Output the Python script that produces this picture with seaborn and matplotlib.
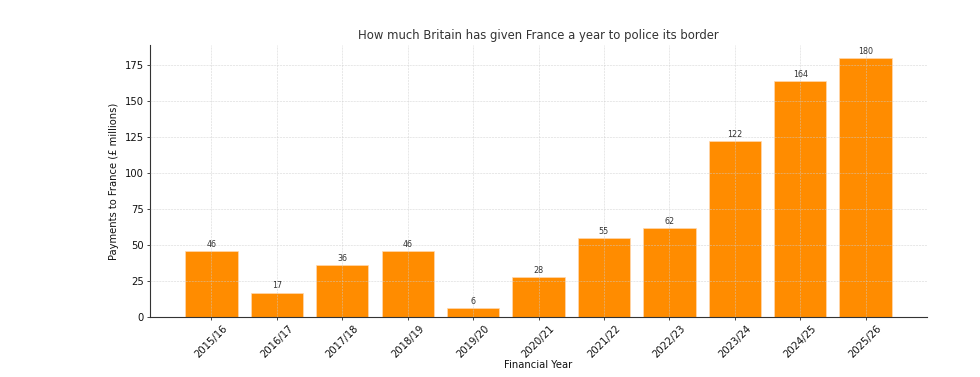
import matplotlib
matplotlib.use("Agg")
import matplotlib.pyplot as plt
import seaborn as sns
import pandas as pd

years = ["2015/16", "2016/17", "2017/18", "2018/19", "2019/20", "2020/21",
         "2021/22", "2022/23", "2023/24", "2024/25", "2025/26"]
payments = [46, 17, 36, 46, 6, 28, 55, 62, 122, 164, 180]

df = pd.DataFrame({"year": years, "payment": payments})

sns.set_style("ticks")
plt.rcParams['font.family'] = ['DejaVu Sans']

fig = plt.figure(figsize=(9.8, 3.77), dpi=100)
ax = fig.add_axes([0.153, 0.159, 0.793, 0.722])

sns.barplot(data=df, x="year", y="payment", color="#FF8C00", saturation=1,
            width=0.8, edgecolor="#FFD9B0", linewidth=0.5, ax=ax, zorder=2)

ax.set_xlim(-0.94, len(years) - 1 + 0.94)
ax.set_ylim(0, 189)

for c in ax.containers:
    ax.bar_label(c, labels=[str(v) for v in payments], padding=1.5,
                 fontsize=5.8, color="#333333")

ax.grid(True, linestyle="--", linewidth=0.4, color="#cccccc", alpha=0.8, zorder=3)
ax.set_axisbelow(False)

ax.set_title("How much Britain has given France a year to police its border",
             fontsize=8.4, color="#333333", pad=4)
ax.set_xlabel("Financial Year", fontsize=7.2, color="#111111", labelpad=0)
ax.set_ylabel("Payments to France (£ millions)", fontsize=7.2, color="#111111", labelpad=4)
ax.tick_params(axis="x", labelrotation=45, labelsize=7.2, length=2.5, width=0.6, pad=2,
               labelcolor="#111111")
ax.tick_params(axis="y", labelsize=7.2, length=2.5, width=0.6, pad=2, labelcolor="#111111")
for lbl in ax.get_xticklabels():
    lbl.set_ha("center")
ax.set_yticks([0, 25, 50, 75, 100, 125, 150, 175])

sns.despine(ax=ax, top=True, right=True)
for s in ["left", "bottom"]:
    ax.spines[s].set_color("#333333")
    ax.spines[s].set_linewidth(0.8)

fig.savefig("out.png", dpi=100)
